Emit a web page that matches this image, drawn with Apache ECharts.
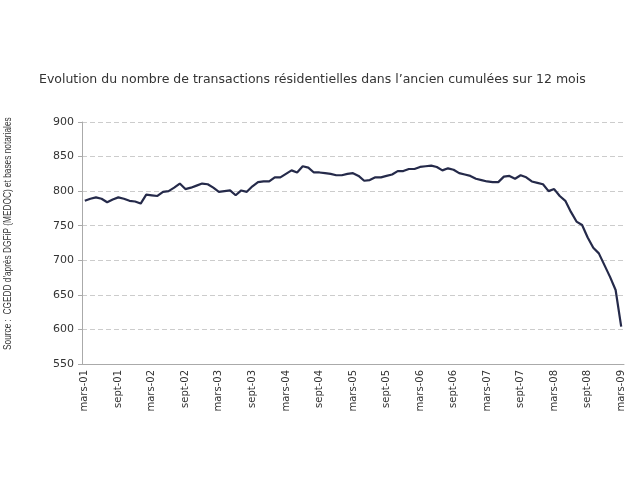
<!DOCTYPE html>
<html><head><meta charset="utf-8">
<script src="https://cdn.jsdelivr.net/npm/echarts@6/dist/echarts.min.js"></script>
<style>html,body{margin:0;padding:0;background:#fff}#c{width:640px;height:480px}</style>
</head><body><div id="c"></div>
<script>
const monthNames = ['mars','avr','mai','juin','juil','août','sept','oct','nov','déc','janv','févr'];
const startYear = 2001;
const nMonths = 97;
const categories = [];
for (let i = 0; i < nMonths; i++) {
  const m = monthNames[i % 12];
  const y = startYear + Math.floor((i + 2) / 12);
  categories.push(m + '-' + String(y % 100).padStart(2, '0'));
}
const transactions = [
  786, 789, 791, 789, 784, 788, 791, 789, 786, 785, 782, 795,
  794, 793, 799, 800, 805, 811, 803, 805, 808, 811, 810, 805,
  799, 800, 801, 794, 801, 799, 807, 813, 814, 814, 820, 820,
  825, 830, 827, 836, 834, 827, 827, 826, 825, 823, 823, 825,
  826, 822, 815, 816, 820, 820, 822, 824, 829, 829, 832, 832,
  835, 836, 837, 835, 830, 833, 831, 826, 824, 822, 818, 816,
  814, 813, 813, 821, 822, 818, 823, 820, 814, 812, 810, 800,
  803, 793, 786, 770, 756, 751, 733, 718, 710, 693, 676, 657,
  604
];
const yTicks = [550, 600, 650, 700, 750, 800, 850, 900];
const titleText = 'Evolution du nombre de transactions résidentielles dans l’ancien cumulées sur 12 mois';
const sourceText = "Source :  CGEDD d'après DGFiP (MEDOC) et bases notariales";

const chart = echarts.init(document.getElementById('c'), null, {renderer: 'canvas'});
chart.setOption({
  animation: false,
  backgroundColor: '#fff',
  title: {
    text: titleText, left: 34, top: 68,
    textStyle: {fontFamily: 'DejaVu Sans', fontSize: 12.5, fontWeight: 'normal', color: '#333'}
  },
  graphic: [{
    type: 'text', x: 3, y: 350, rotation: Math.PI / 2, scaleX: 0.83,
    style: {text: sourceText, fontFamily: 'Liberation Sans', fontSize: 10, fill: '#333', textAlign: 'left', textVerticalAlign: 'top'}
  }],
  grid: {left: 82, right: 16, top: 122, bottom: 116, containLabel: false},
  xAxis: {
    type: 'category', data: categories, boundaryGap: true,
    axisLine: {lineStyle: {color: '#aaa', width: 1}},
    axisTick: {interval: 5, length: 4, lineStyle: {color: '#aaa'}},
    axisLabel: {interval: 5, rotate: 90, fontFamily: 'DejaVu Sans', fontSize: 10, color: '#333', margin: 6},
    splitLine: {show: false}
  },
  yAxis: {
    type: 'value', min: yTicks[0], max: yTicks[yTicks.length - 1], interval: 50,
    axisLine: {show: true, lineStyle: {color: '#aaa', width: 1}},
    axisTick: {show: true, length: 4, lineStyle: {color: '#aaa'}},
    axisLabel: {fontFamily: 'DejaVu Sans', fontSize: 11, color: '#333', margin: 8},
    splitLine: {show: true, lineStyle: {color: '#ccc', type: [5, 3], width: 1}}
  },
  series: [{
    type: 'line', data: transactions, symbol: 'none', smooth: false,
    lineStyle: {color: '#252a4a', width: 2.2}
  }]
});
</script></body></html>
